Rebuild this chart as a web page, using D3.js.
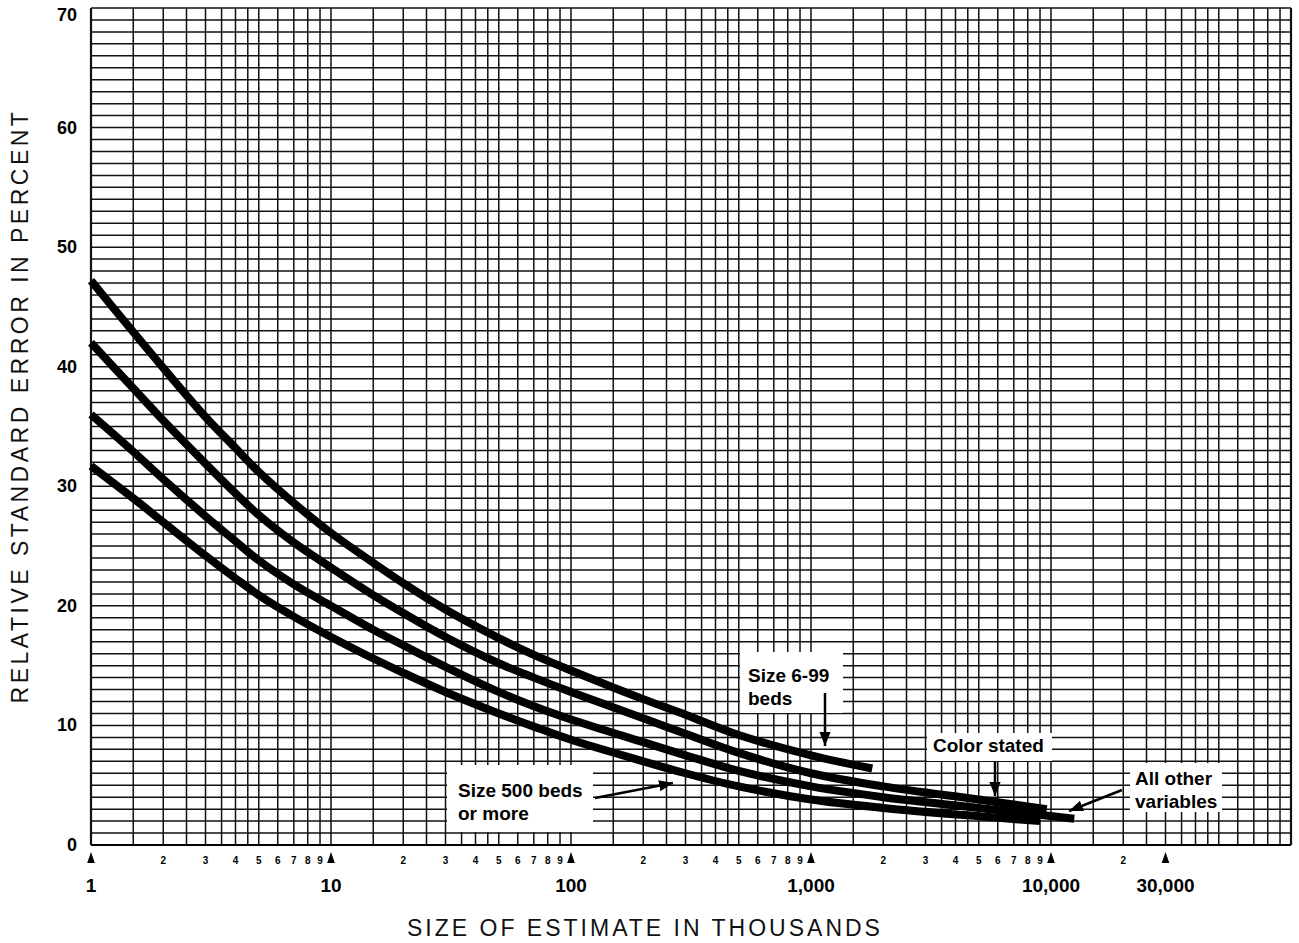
<!DOCTYPE html>
<html>
<head>
<meta charset="utf-8">
<script src="https://cdn.jsdelivr.net/npm/d3@7"></script>
<style>
  html, body { margin: 0; padding: 0; background: #fff; }
  svg { display: block; font-family: "Liberation Sans", Arial, Helvetica, sans-serif; }
</style>
</head>
<body>
<svg id="chart" width="1299" height="943"></svg>
<script>
// ---- data (size of estimate in thousands, relative standard error in percent) ----
const beds6to99X   = [1, 1.5, 2, 3, 4, 5, 7, 10, 15, 20, 30, 50, 70, 100, 200, 300, 500, 1000, 1800];
const beds6to99Y   = [47.2, 42.9, 39.9, 35.8, 33.2, 31.2, 28.6, 26.1, 23.6, 21.9, 19.7, 17.3, 15.9, 14.6, 12.2, 10.9, 9.2, 7.5, 6.4];

const colorStatedX = [1, 1.5, 2, 3, 4, 5, 7, 10, 15, 20, 30, 50, 70, 100, 200, 300, 500, 1000, 2000, 5000, 9600];
const colorStatedY = [42.0, 38.2, 35.5, 31.9, 29.4, 27.6, 25.3, 23.2, 20.9, 19.4, 17.4, 15.2, 14.0, 12.8, 10.6, 9.3, 7.7, 6.0, 4.9, 3.8, 3.0];

const allOtherX    = [1, 1.5, 2, 3, 4, 5, 7, 10, 15, 20, 30, 50, 70, 100, 200, 300, 500, 1000, 2000, 5000, 12500];
const allOtherY    = [36.0, 32.9, 30.6, 27.5, 25.4, 23.8, 21.8, 20.0, 18.0, 16.7, 14.9, 12.8, 11.6, 10.5, 8.6, 7.5, 6.2, 4.9, 4.0, 3.1, 2.2];

const beds500X     = [1, 1.5, 2, 3, 4, 5, 7, 10, 15, 20, 30, 50, 70, 100, 200, 300, 500, 1000, 2000, 5000, 9000];
const beds500Y     = [31.7, 29.0, 27.0, 24.2, 22.3, 20.9, 19.1, 17.4, 15.6, 14.4, 12.8, 11.0, 9.9, 8.8, 7.0, 6.0, 4.9, 3.8, 3.1, 2.4, 2.0];

const yTickValues  = [0, 10, 20, 30, 40, 50, 60, 70];
const decadeTicks  = [1, 10, 100, 1000, 10000, 30000];
const decadeLabels = ["1", "10", "100", "1,000", "10,000", "30,000"];
const minorDigits  = [2, 3, 4, 5, 6, 7, 8, 9];
const gridMultipliers = [1, 1.5, 2, 2.5, 3, 3.5, 4, 4.5, 5, 6, 7, 8, 9];
const decades = [1, 10, 100, 1000, 10000];

const yTitle = "RELATIVE STANDARD ERROR IN PERCENT";
const xTitle = "SIZE OF ESTIMATE IN THOUSANDS";

// ---- layout ----
const svg = d3.select("#chart");
const pLeft = 91, pRight = 1291, pTop = 8, pBottom = 845;
const x = d3.scaleLog().domain([1, 100000]).range([pLeft, pRight]);
const y = d3.scaleLinear().domain([0, 70]).range([pBottom, pTop]);

// ---- grid ----
const grid = svg.append("g");
const hVals = d3.range(0, 71, 1);
grid.selectAll("line.h").data(hVals).enter().append("line")
  .attr("x1", pLeft).attr("x2", pRight)
  .attr("y1", d => y(d)).attr("y2", d => y(d))
  .attr("stroke", "#111").attr("stroke-width", 1.5);

const vVals = [];
decades.forEach(d => gridMultipliers.forEach(m => vVals.push(d * m)));
vVals.push(100000);
grid.selectAll("line.v").data(vVals).enter().append("line")
  .attr("x1", d => x(d)).attr("x2", d => x(d))
  .attr("y1", pTop).attr("y2", pBottom)
  .attr("stroke", "#111")
  .attr("stroke-width", d => (d === 1 || d === 100000) ? 2.2 : 1.5);

svg.append("line").attr("x1", pLeft).attr("x2", pRight).attr("y1", pBottom).attr("y2", pBottom)
  .attr("stroke", "#000").attr("stroke-width", 2);

// ---- curves ----
const line = d3.line().x(d => x(d[0])).y(d => y(d[1])).curve(d3.curveCatmullRom.alpha(0.5));
const series = [
  [beds6to99X, beds6to99Y],
  [colorStatedX, colorStatedY],
  [allOtherX, allOtherY],
  [beds500X, beds500Y]
];
svg.append("g").selectAll("path").data(series).enter().append("path")
  .attr("d", s => line(d3.zip(s[0], s[1])))
  .attr("fill", "none").attr("stroke", "#000")
  .attr("stroke-width", 8).attr("stroke-linecap", "butt").attr("stroke-linejoin", "round");

// ---- y axis labels ----
svg.append("g").selectAll("text").data(yTickValues).enter().append("text")
  .attr("x", 77)
  .attr("y", d => y(d) + (d === 70 ? 7 : 0))
  .attr("text-anchor", "end").attr("dominant-baseline", "central")
  .attr("font-size", 18).attr("font-weight", "bold").text(d => d);

svg.append("text")
  .attr("transform", `translate(28,406) rotate(-90)`)
  .attr("text-anchor", "middle")
  .attr("font-size", 23).attr("letter-spacing", 3.5)
  .attr("fill", "#111")
  .text(yTitle);

// ---- x axis ticks ----
const minorTicks = [];
[1, 10, 100, 1000].forEach(d => minorDigits.forEach(m => minorTicks.push({v: d * m, t: m})));
minorTicks.push({v: 20000, t: 2});
svg.append("g").selectAll("text").data(minorTicks).enter().append("text")
  .attr("x", d => x(d.v)).attr("y", 864)
  .attr("text-anchor", "middle").attr("font-size", 10).attr("font-weight", "bold")
  .text(d => d.t);

svg.append("g").selectAll("path").data(decadeTicks).enter().append("path")
  .attr("d", d => `M${x(d)},852 L${x(d) + 3.8},863 L${x(d) - 3.8},863 Z`)
  .attr("fill", "#000");

svg.append("g").selectAll("text").data(decadeTicks).enter().append("text")
  .attr("x", d => x(d)).attr("y", 892)
  .attr("text-anchor", "middle").attr("font-size", 19).attr("font-weight", "bold")
  .text((d, i) => decadeLabels[i]);

svg.append("text")
  .attr("x", 645).attr("y", 936)
  .attr("text-anchor", "middle")
  .attr("font-size", 23).attr("letter-spacing", 3)
  .attr("fill", "#111")
  .text(xTitle);

// ---- annotations ----
svg.append("defs").append("marker")
  .attr("id", "ah").attr("viewBox", "0 0 10 10").attr("refX", 10).attr("refY", 5)
  .attr("markerWidth", 14).attr("markerHeight", 14).attr("markerUnits", "userSpaceOnUse")
  .attr("orient", "auto")
  .append("path").attr("d", "M0,1 L10,5 L0,9 Z").attr("fill", "#000");

const notes = [
  {box: [740, 652, 103, 61], lines: ["Size 6-99", "beds"], tx: 748, ty: 682, arrow: [[825, 693], [825, 746]]},
  {box: [447, 765, 146, 67], lines: ["Size 500 beds", "or more"], tx: 458, ty: 797, arrow: [[595, 798], [673, 783]]},
  {box: [927, 733, 125, 28], lines: ["Color stated"], tx: 933, ty: 752, arrow: [[995, 762], [995, 796]]},
  {box: [1130, 763, 92, 49], lines: ["All other", "variables"], tx: 1135, ty: 785, arrow: [[1122, 790], [1069, 811]]}
];
const ng = svg.append("g");
notes.forEach(n => {
  ng.append("rect").attr("x", n.box[0]).attr("y", n.box[1]).attr("width", n.box[2]).attr("height", n.box[3])
    .attr("fill", "#fff");
  n.lines.forEach((t, i) => {
    ng.append("text").attr("x", n.tx).attr("y", n.ty + i * 23)
      .attr("font-size", 19).attr("font-weight", "bold").text(t);
  });
  ng.append("line")
    .attr("x1", n.arrow[0][0]).attr("y1", n.arrow[0][1])
    .attr("x2", n.arrow[1][0]).attr("y2", n.arrow[1][1])
    .attr("stroke", "#000").attr("stroke-width", 2.5).attr("marker-end", "url(#ah)");
});
</script>
</body>
</html>
